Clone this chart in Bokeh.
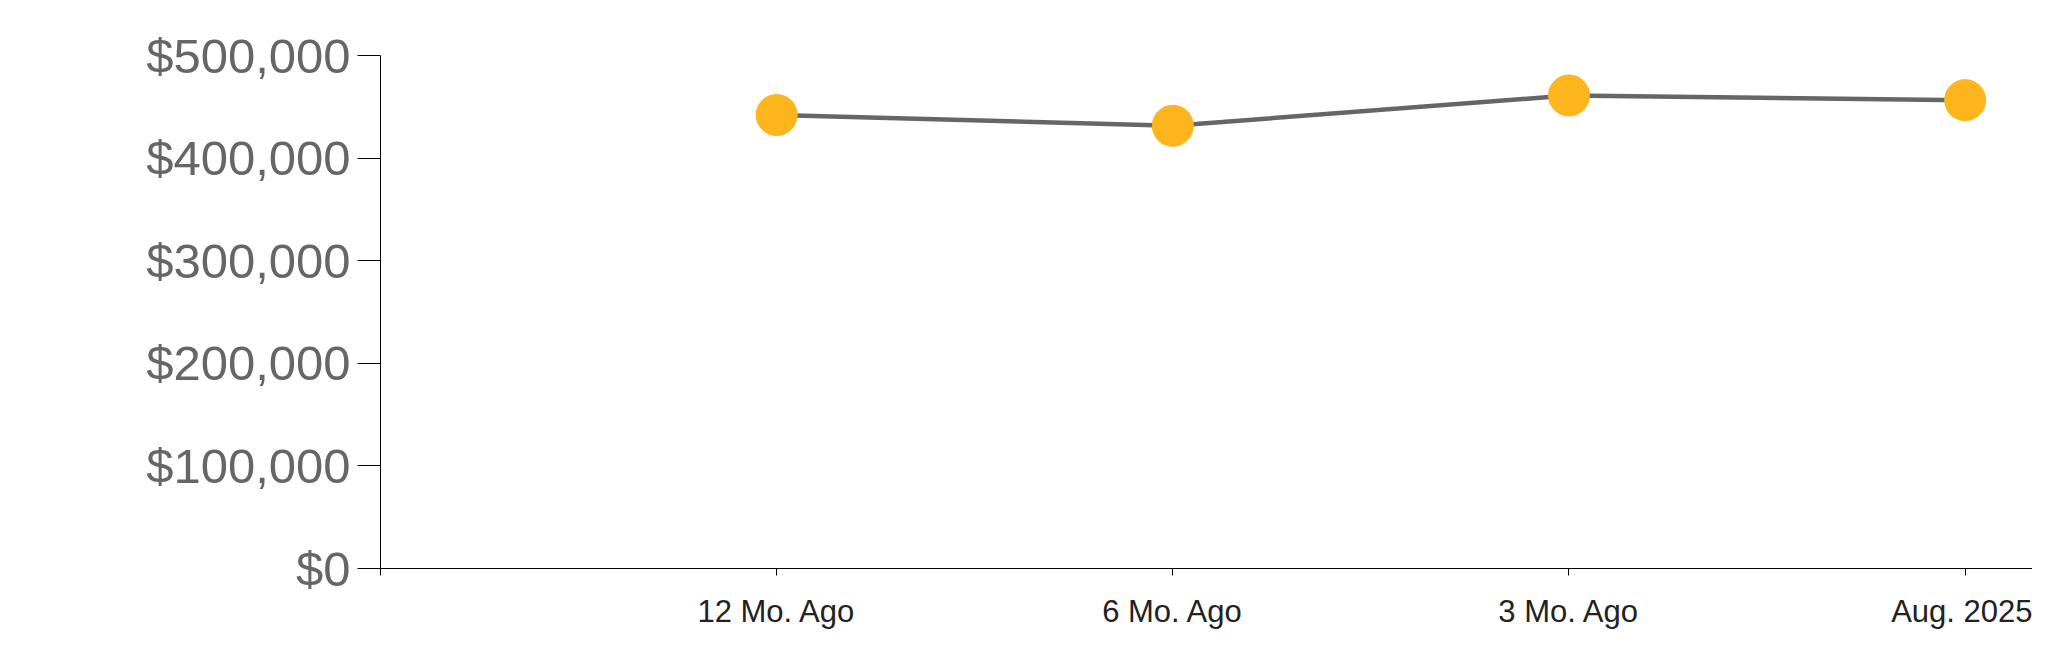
from bokeh.plotting import figure
from bokeh.models import FixedTicker, NumeralTickFormatter, Range1d
from bokeh.embed import file_html
from bokeh.resources import INLINE

categories = ["12 Mo. Ago", "6 Mo. Ago", "3 Mo. Ago", "Aug. 2025"]
prices = [442000, 431500, 461000, 456500]
y_ticks = [0, 100000, 200000, 300000, 400000, 500000]

xs = list(range(1, len(categories) + 1))

p = figure(width=2032, height=647, output_backend="svg", toolbar_location=None,
           x_range=Range1d(0, 4.17), y_range=Range1d(0, 500000),
           min_border_left=380, min_border_right=0, min_border_top=55, min_border_bottom=79)
p.outline_line_color = None
p.xgrid.visible = False
p.ygrid.visible = False
p.background_fill_color = "white"
p.border_fill_color = "white"

p.line(xs, prices, line_color="#666666", line_width=4.5)
p.scatter(xs, prices, size=41, fill_color="#FCB51C", line_color="#FCB51C")

xa = p.xaxis[0]
xa.ticker = FixedTicker(ticks=[0] + xs)
xa.major_label_overrides = {0: ""} | {x: c for x, c in zip(xs, categories)}
xa.major_tick_in = 0
xa.major_tick_out = 7
xa.minor_tick_line_color = None
xa.axis_line_color = "black"
xa.major_tick_line_color = "black"
xa.major_label_text_font = "Liberation Sans"
xa.major_label_text_font_size = "31px"
xa.major_label_text_color = "#222222"
xa.major_label_standoff = 18

ya = p.yaxis[0]
ya.ticker = FixedTicker(ticks=y_ticks)
ya.formatter = NumeralTickFormatter(format="$0,0")
ya.major_tick_in = 0
ya.major_tick_out = 23
ya.minor_tick_line_color = None
ya.axis_line_color = "black"
ya.major_tick_line_color = "black"
ya.major_label_text_font = "Liberation Sans"
ya.major_label_text_font_size = "49px"
ya.major_label_text_color = "#666666"
ya.major_label_standoff = 7

open("out.html", "w").write(file_html(p, INLINE))
